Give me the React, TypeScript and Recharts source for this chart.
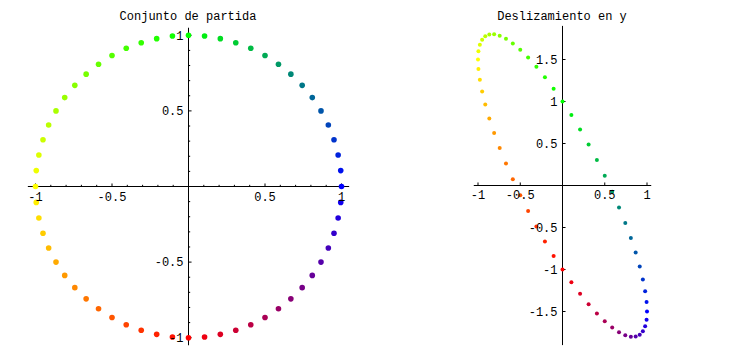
import { ScatterChart, Scatter, XAxis, YAxis, ReferenceLine, ReferenceDot, Cell } from 'recharts'

// starting set: 60 points on the unit circle, 6 degrees apart, counter-clockwise from (1, 0)
const circleX = [
  1, 0.995, 0.978, 0.951, 0.914, 0.866, 0.809, 0.743, 0.669, 0.588, 0.5, 0.407, 0.309, 0.208, 0.105,
  0, -0.105, -0.208, -0.309, -0.407, -0.5, -0.588, -0.669, -0.743, -0.809, -0.866, -0.914, -0.951, -0.978, -0.995,
  -1, -0.995, -0.978, -0.951, -0.914, -0.866, -0.809, -0.743, -0.669, -0.588, -0.5, -0.407, -0.309, -0.208, -0.105,
  0, 0.105, 0.208, 0.309, 0.407, 0.5, 0.588, 0.669, 0.743, 0.809, 0.866, 0.914, 0.951, 0.978, 0.995,
]
const circleY = [
  0, 0.105, 0.208, 0.309, 0.407, 0.5, 0.588, 0.669, 0.743, 0.809, 0.866, 0.914, 0.951, 0.978, 0.995,
  1, 0.995, 0.978, 0.951, 0.914, 0.866, 0.809, 0.743, 0.669, 0.588, 0.5, 0.407, 0.309, 0.208, 0.105,
  0, -0.105, -0.208, -0.309, -0.407, -0.5, -0.588, -0.669, -0.743, -0.809, -0.866, -0.914, -0.951, -0.978, -0.995,
  -1, -0.995, -0.978, -0.951, -0.914, -0.866, -0.809, -0.743, -0.669, -0.588, -0.5, -0.407, -0.309, -0.208, -0.105,
]
// sheared set: same x, y slid along
const shearY = [
  -1.5, -1.388, -1.259, -1.118, -0.964, -0.799, -0.626, -0.446, -0.261, -0.073, 0.116, 0.304, 0.488, 0.666, 0.838,
  1, 1.153, 1.29, 1.415, 1.525, 1.616, 1.691, 1.747, 1.784, 1.802, 1.799, 1.778, 1.736, 1.675, 1.598,
  1.5, 1.388, 1.259, 1.118, 0.964, 0.799, 0.626, 0.446, 0.261, 0.073, -0.116, -0.304, -0.488, -0.666, -0.838,
  -1, -1.153, -1.29, -1.415, -1.525, -1.616, -1.691, -1.747, -1.784, -1.802, -1.799, -1.778, -1.736, -1.675, -1.598,
]

const leftXTicks = [-1, -0.5, 0.5, 1]
const leftYTicks = [-1, -0.5, 0.5, 1]
const leftMinor = [-0.9, -0.8, -0.7, -0.6, -0.4, -0.3, -0.2, -0.1, 0.1, 0.2, 0.3, 0.4, 0.6, 0.7, 0.8, 0.9]
const rightXTicks = [-1, -0.5, 0.5, 1]
const rightYTicks = [-1.5, -1, -0.5, 0.5, 1, 1.5]

// colour ramp: blue -> green -> yellow -> red -> blue around the circle
const colorStops = [
  [0, 0, 255],
  [0, 255, 0],
  [255, 255, 0],
  [255, 0, 0],
  [0, 0, 255],
]
const hex = (n: number) => Math.round(n).toString(16).padStart(2, '0')
const pointColors = circleX.map((_, i) => {
  const seg = Math.floor(i / 15)
  const t = (i % 15) / 15
  const a = colorStops[seg]
  const b = colorStops[seg + 1]
  return '#' + [0, 1, 2].map((c) => hex(a[c] + (b[c] - a[c]) * t)).join('')
})

const font = '"Liberation Mono", "DejaVu Sans Mono", monospace'
const labelStyle = { fill: '#000', fontSize: 12, fontFamily: font }

const fmt = (v: number) => String(v)

interface PlotProps {
  left: number
  width: number
  title: string
  titleCenter: number
  xs: number[]
  ys: number[]
  xDomain: [number, number]
  yDomain: [number, number]
  xTicks: number[]
  yTicks: number[]
  minor: number[]
  tickX: number
  tickY: number
  minorX: number
  minorY: number
  margin: { top: number; right: number; bottom: number; left: number }
  r: number
  xLabelOffset: number
}

function Plot(p: PlotProps) {
  const data = p.xs.map((x, i) => ({ x, y: p.ys[i] }))
  return (
    <div style={{ position: 'absolute', left: p.left, top: 0, width: p.width, height: 355 }}>
      <div
        style={{
          position: 'absolute',
          left: p.titleCenter - p.left - 120,
          width: 240,
          top: 11,
          textAlign: 'center',
          fontFamily: font,
          fontSize: 12,
          lineHeight: '12px',
          color: '#000',
          whiteSpace: 'pre',
        }}
      >
        {p.title}
      </div>
      <ScatterChart width={p.width} height={355} margin={p.margin}>
        <XAxis type="number" dataKey="x" domain={p.xDomain} hide allowDataOverflow />
        <YAxis type="number" dataKey="y" domain={p.yDomain} hide allowDataOverflow />
        <ReferenceLine y={0} stroke="#000" strokeWidth={1} />
        <ReferenceLine x={0} stroke="#000" strokeWidth={1} />
        {p.xTicks.map((v) => (
          <ReferenceLine key={'xt' + v} segment={[{ x: v, y: 0 }, { x: v, y: p.tickY }]} stroke="#000" />
        ))}
        {p.yTicks.map((v) => (
          <ReferenceLine key={'yt' + v} segment={[{ x: 0, y: v }, { x: p.tickX, y: v }]} stroke="#000" />
        ))}
        {p.minor.map((v) => (
          <ReferenceLine key={'xm' + v} segment={[{ x: v, y: 0 }, { x: v, y: p.minorY }]} stroke="#000" />
        ))}
        {p.minor.map((v) => (
          <ReferenceLine key={'ym' + v} segment={[{ x: 0, y: v }, { x: p.minorX, y: v }]} stroke="#000" />
        ))}
        <Scatter
          data={data}
          isAnimationActive={false}
          shape={(props: any) => <circle cx={props.cx} cy={props.cy} r={p.r} fill={props.fill} />}
        >
          {data.map((_, i) => (
            <Cell key={i} fill={pointColors[i]} />
          ))}
        </Scatter>
        {p.xTicks.map((v) => (
          <ReferenceDot
            key={'xl' + v}
            x={v}
            y={0}
            r={0}
            fill="none"
            stroke="none"
            label={{ value: fmt(v), position: 'bottom', offset: p.xLabelOffset, ...labelStyle }}
          />
        ))}
        {p.yTicks.map((v) => (
          <ReferenceDot
            key={'yl' + v}
            x={0}
            y={v}
            r={0}
            fill="none"
            stroke="none"
            label={{ value: fmt(v), position: 'left', offset: 5, ...labelStyle }}
          />
        ))}
      </ScatterChart>
    </div>
  )
}

export default function App() {
  return (
    <div style={{ position: 'absolute', left: 0, top: 0, width: 748, height: 355, background: '#fff' }}>
      <Plot
        left={0}
        width={376}
        title="Conjunto de partida"
        titleCenter={188}
        xs={circleX}
        ys={circleY}
        xDomain={[-1.05, 1.05]}
        yDomain={[-1.05, 1.05]}
        xTicks={leftXTicks}
        yTicks={leftYTicks}
        minor={leftMinor}
        tickX={0.02}
        tickY={0.02}
        minorX={0.011}
        minorY={0.011}
        margin={{ top: 27.74, right: 26.85, bottom: 9.74, left: 27.85 }}
        r={2.8}
        xLabelOffset={6}
      />
      <Plot
        left={400}
        width={348}
        title="Deslizamiento en y"
        titleCenter={562}
        xs={circleX}
        ys={shearY}
        xDomain={[-1.05, 1.05]}
        yDomain={[-1.9, 1.9]}
        xTicks={rightXTicks}
        yTicks={rightYTicks}
        minor={[]}
        tickX={0.036}
        tickY={0.036}
        minorX={0}
        minorY={0}
        margin={{ top: 25.9, right: 96.775, bottom: 9.9, left: 73.775 }}
        r={2}
        xLabelOffset={5}
      />
    </div>
  )
}
